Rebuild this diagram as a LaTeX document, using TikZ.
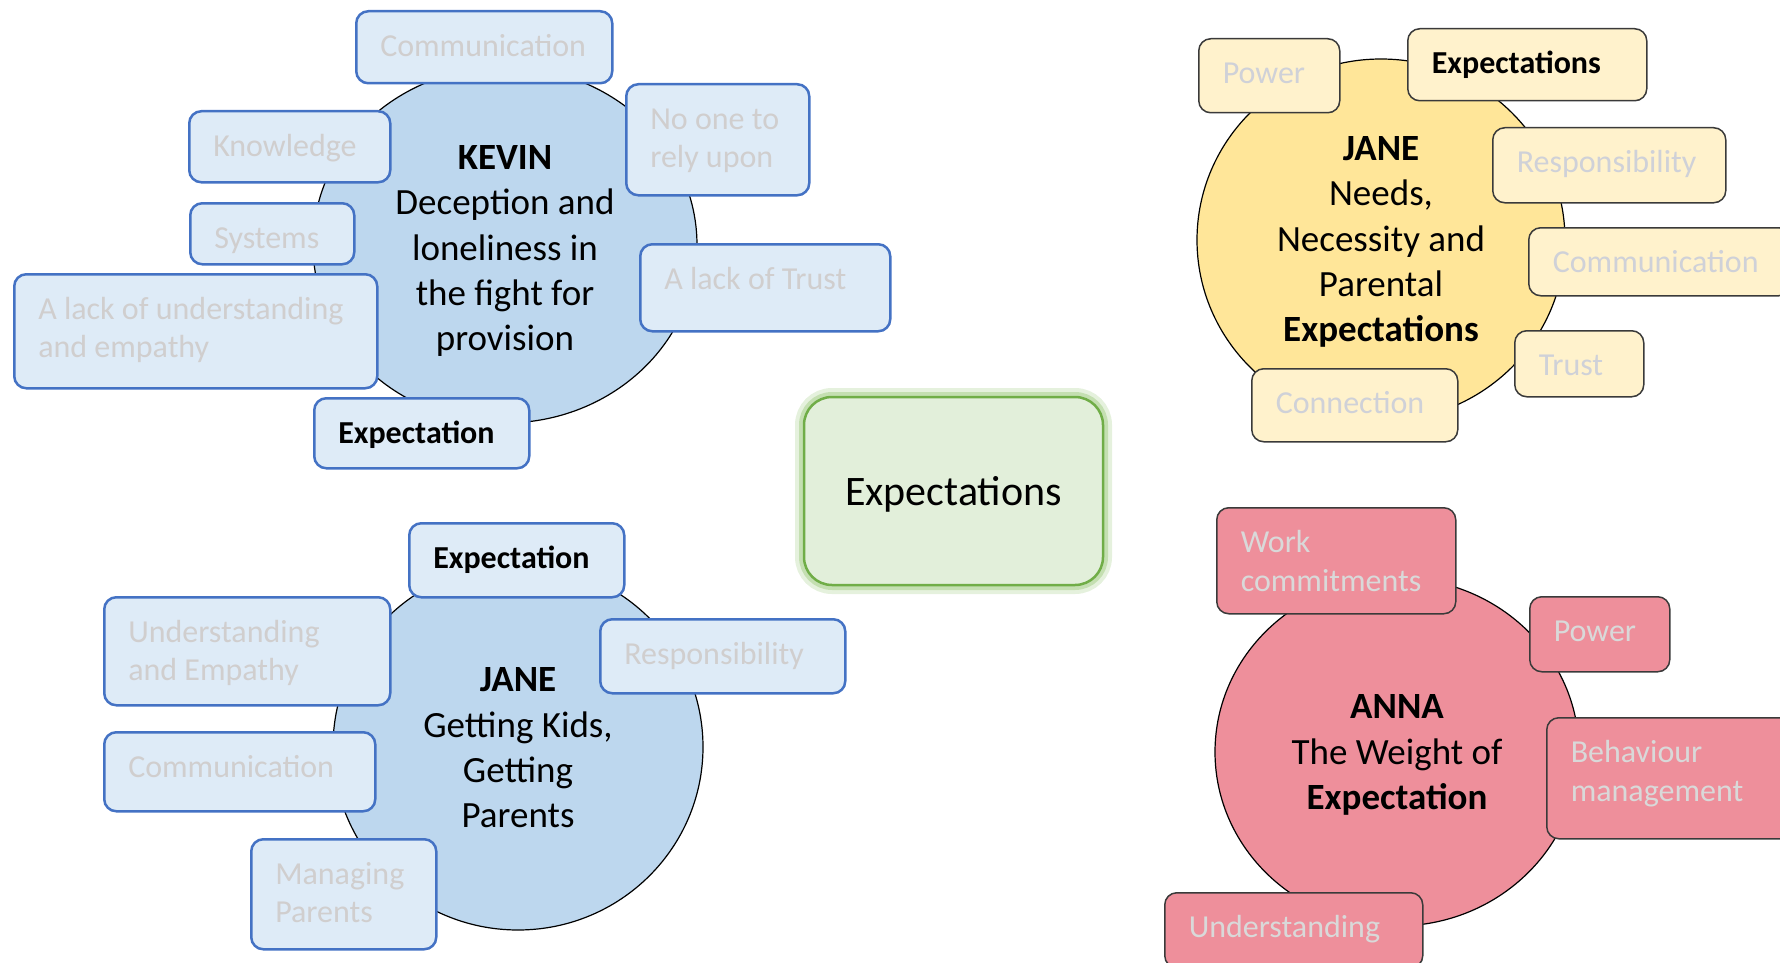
\documentclass[tikz,border=0pt]{standalone}
\usepackage{fontspec}
\setmainfont{Carlito}
\usetikzlibrary{shapes.geometric}

\definecolor{kevinfill}{HTML}{BDD7EE}
\definecolor{bluebox}{HTML}{DEEBF7}
\definecolor{blueline}{HTML}{4472C4}
\definecolor{janefill}{HTML}{FFE699}
\definecolor{yellowbox}{HTML}{FFF2CC}
\definecolor{annafill}{HTML}{EE8F9B}
\definecolor{darkline}{HTML}{3A3A3A}
\definecolor{fadeblue}{HTML}{D0CECE}
\definecolor{fadeyellow}{HTML}{CFD1D8}
\definecolor{fadepink}{HTML}{D9D9D9}
\definecolor{greenfill}{HTML}{E2EFDA}
\definecolor{greenline}{HTML}{70AD47}
\definecolor{greenglow}{HTML}{A9D18E}

\newcommand{\labelfont}{\fontsize{32}{38.5}\selectfont\hyphenpenalty=10000\exhyphenpenalty=10000}
\newcommand{\themefont}{\fontsize{37}{45.4}\selectfont}

\tikzset{
  tag/.style={rounded corners=12pt, anchor=north west, inner xsep=24pt, inner ysep=0pt,
    align=flush left, font=\labelfont},
  wh/.style 2 args={minimum width=#1, text width=#1pt-48pt, text height=45pt, text depth=#2pt-45pt},
  bluetag/.style={tag, draw=blueline, line width=2.5pt, fill=bluebox, text=fadeblue},
  yellowtag/.style={tag, draw=darkline, line width=1.5pt, fill=yellowbox, text=fadeyellow},
  pinktag/.style={tag, draw=darkline, line width=1.5pt, fill=annafill, text=fadepink},
  keyword/.style={text=black, font=\labelfont\bfseries},
  theme/.style={ellipse, draw=black, line width=1.2pt, inner sep=0pt},
  themetext/.style={align=center, inner sep=0pt, font=\themefont},
  hub/.style={draw=greenline, line width=2.5pt, fill=greenfill, rounded corners=28pt,
    minimum width=299, minimum height=188, font=\fontsize{42}{50}\selectfont,
    text height=36.5pt, text depth=8.5pt,
    preaction={draw=greenglow, line width=18pt, opacity=.3},
    preaction={draw=greenglow, line width=10pt, opacity=.55}},
}

\begin{document}
\begin{tikzpicture}[x=1pt, y=-1pt]

    \useasboundingbox (0,0) rectangle (1780,963);
    \clip (0,0) rectangle (1780,963);

    % Kevin
    \node[theme, fill=kevinfill, minimum width=384, minimum height=356] (kevin) at (505,245) {};
    \node[themetext] (kevintext) at (505,251)
        {\textbf{KEVIN}\\Deception and\\loneliness in\\the fight for\\provision};
    \node[bluetag, wh={256}{72}] (kcomm) at (355,10) {Communication};
    \node[bluetag, wh={201}{71}] (kknow) at (188,110) {Knowledge};
    \node[bluetag, wh={164}{61}] (ksys) at (189,202) {Systems};
    \node[bluetag, wh={363}{114}] (klack) at (13,273) {A lack of understanding\\and empathy};
    \node[bluetag, keyword, wh={215}{70}] (kexp) at (313,397) {Expectation};
    \node[bluetag, wh={183}{111}] (krely) at (625,83) {No one to\\rely upon};
    \node[bluetag, wh={250}{87}] (ktrust) at (639,243) {A lack of Trust};

    % Jane (blue)
    \node[theme, fill=kevinfill, minimum width=370, minimum height=366] (janeb) at (518,747) {};
    \node[themetext] (janebtext) at (518,748)
        {\textbf{JANE}\\Getting Kids,\\Getting\\Parents};
    \node[bluetag, keyword, wh={215}{74}] (jexp) at (408,522) {Expectation};
    \node[bluetag, wh={286}{108}] (jund) at (103,596) {Understanding\\and Empathy};
    \node[bluetag, wh={271}{79}] (jcomm) at (103,731) {Communication};
    \node[bluetag, wh={185}{110}] (jman) at (250,838) {Managing\\Parents};
    \node[bluetag, wh={245}{74}] (jresp) at (599,618) {Responsibility};

    % Jane (yellow)
    \node[theme, fill=janefill, minimum width=368, minimum height=362] (janey) at (1381,240) {};
    \node[themetext] (janeytext) at (1381,242)
        {\textbf{JANE}\\Needs,\\Necessity and\\Parental\\\textbf{Expectations}};
    \node[yellowtag, wh={141}{74}] (ypow) at (1198,38) {Power};
    \node[yellowtag, keyword, wh={239}{72}] (yexp) at (1407,28) {Expectations};
    \node[yellowtag, wh={233}{75}] (yresp) at (1492,127) {Responsibility};
    \node[yellowtag, wh={262}{68}] (ycomm) at (1528,227) {Communication};
    \node[yellowtag, wh={129}{66}] (ytrust) at (1514,330) {Trust};
    \node[yellowtag, wh={206}{73}] (yconn) at (1251,368) {Connection};

    % Anna
    \node[theme, fill=annafill, minimum width=364, minimum height=348] (anna) at (1397,752) {};
    \node[themetext] (annatext) at (1397,755)
        {\textbf{ANNA}\\The Weight of\\\textbf{Expectation}};
    \node[pinktag, wh={239}{106}] (awork) at (1216,507) {Work\\commitments};
    \node[pinktag, wh={140}{75}] (apow) at (1529,596) {Power};
    \node[pinktag, wh={260}{121}] (abeh) at (1546,717) {Behaviour\\management};
    \node[pinktag, wh={258}{75}] (aund) at (1164,892) {Understanding};

    % Centre
    \node[hub] (expect) at (953.5,491) {Expectations};

\end{tikzpicture}
\end{document}
